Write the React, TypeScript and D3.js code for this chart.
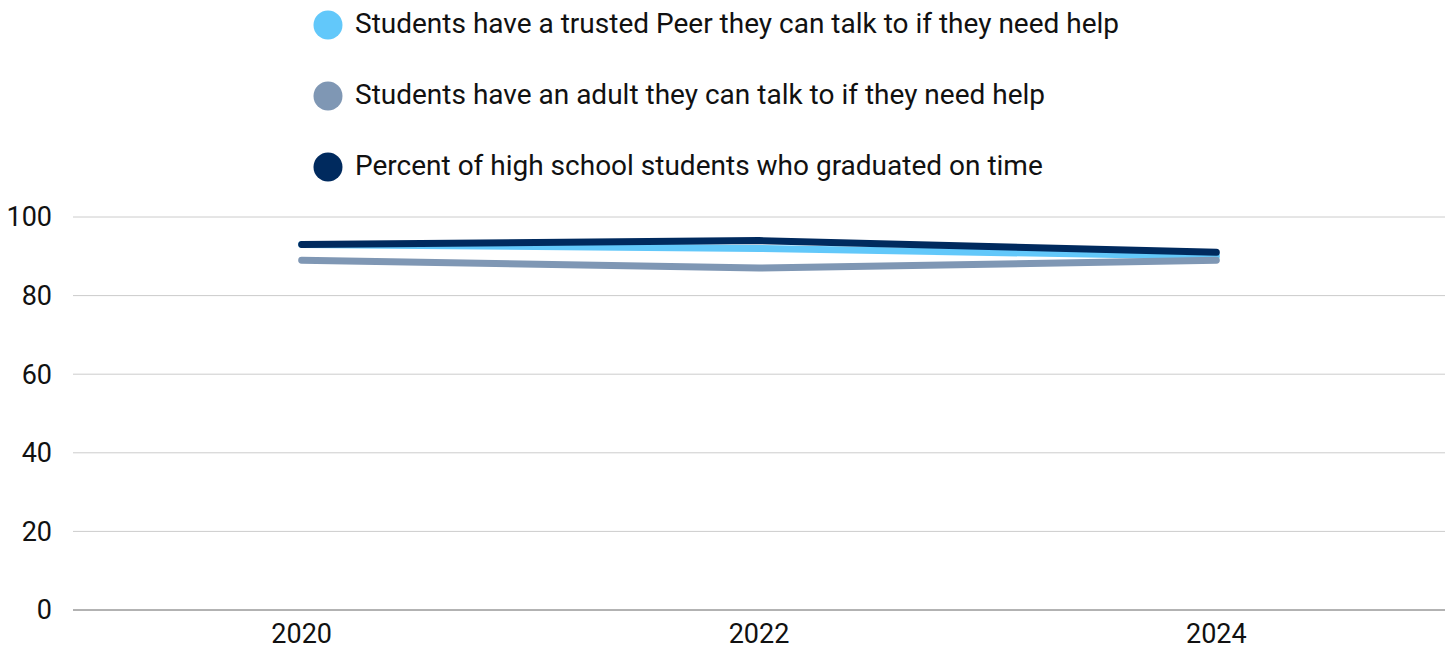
import React from "react";
import * as d3 from "d3";

const years = ["2020", "2022", "2024"];
const peerValues = [93, 92, 90];
const adultValues = [89, 87, 89];
const gradValues = [93, 94, 91];
const seriesNames = [
  "Students have a trusted Peer they can talk to if they need help",
  "Students have an adult they can talk to if they need help",
  "Percent of high school students who graduated on time",
];
const seriesColors = ["#62C8FA", "#7F97B4", "#002A5E"];
const yTicks = [0, 20, 40, 60, 80, 100];

const W = 1452;
const H = 649;
const left = 73;
const right = 1445;
const top = 217;
const bottom = 610;
const font = "Roboto, sans-serif";

export default function App() {
  const x = d3.scaleBand<string>().domain(years).range([left, right]);
  const y = d3.scaleLinear().domain([0, 100]).range([bottom, top]);
  const line = d3
    .line<number>()
    .x((_, i) => (x(years[i]) as number) + x.bandwidth() / 2)
    .y((d) => y(d));
  const data = [peerValues, adultValues, gradValues];
  return (
    <svg width={W} height={H} style={{ position: "absolute", left: 0, top: 0 }}>
      <rect width={W} height={H} fill="#fff" />
      {yTicks.map((t) => (
        <g key={t}>
          <line
            x1={left}
            x2={right}
            y1={y(t)}
            y2={y(t)}
            stroke={t === 0 ? "#666" : "#ccc"}
            strokeWidth={1}
          />
          <text
            x={52}
            y={y(t)}
            dy="0.35em"
            textAnchor="end"
            fontFamily={font}
            fontSize={27}
            fill="#111"
          >
            {t}
          </text>
        </g>
      ))}
      {years.map((yr) => (
        <text
          key={yr}
          x={(x(yr) as number) + x.bandwidth() / 2}
          y={643}
          textAnchor="middle"
          fontFamily={font}
          fontSize={27}
          fill="#111"
        >
          {yr}
        </text>
      ))}
      {data.map((vals, i) => (
        <path
          key={i}
          d={line(vals) || ""}
          fill="none"
          stroke={seriesColors[i]}
          strokeWidth={7}
          strokeLinecap="round"
          strokeLinejoin="round"
        />
      ))}
      {seriesNames.map((name, i) => (
        <g key={name}>
          <circle cx={328} cy={25 + i * 71} r={14.5} fill={seriesColors[i]} />
          <text
            x={355}
            y={33 + i * 71}
            fontFamily={font}
            fontSize={28}
            fill="#111"
          >
            {name}
          </text>
        </g>
      ))}
    </svg>
  );
}
